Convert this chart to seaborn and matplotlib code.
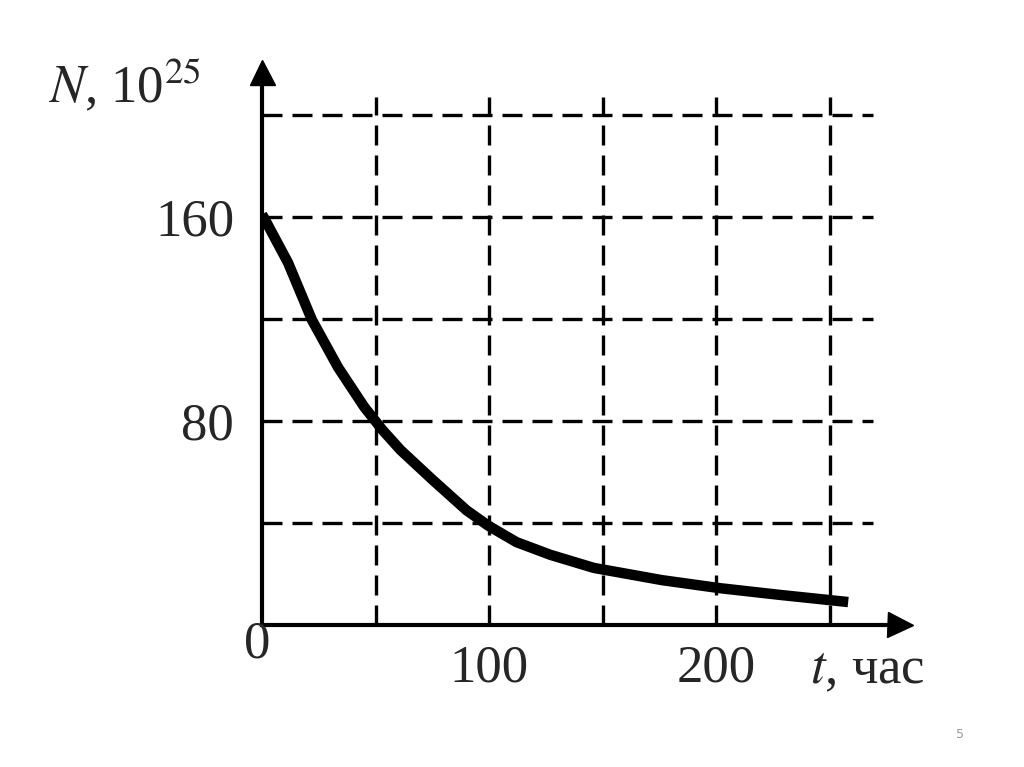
import matplotlib
matplotlib.use("Agg")
import matplotlib.pyplot as plt
import seaborn as sns
import pandas as pd

# Data
t_hours = [0, 1.3, 11.5, 22, 33.5, 45, 53, 61, 75, 90, 99.5, 112, 127, 146, 176, 201, 228, 258]
n_values = [161, 159, 142, 119.6, 101, 85.5, 76.5, 68.6, 57, 45, 39, 32.5, 27.5, 22.4, 17.6, 14.5, 11.8, 9]
x_grid = [50, 100, 150, 200, 250]
y_grid = [40, 80, 120, 160, 200]
x_ticks = [100, 200]
x_tick_labels = ["100", "200"]
y_ticks = [80, 160]
y_tick_labels = ["80", "160"]

sns.set_style("white")
plt.rcParams['font.family'] = ['Liberation Serif', 'DejaVu Serif']
plt.rcParams['mathtext.fontset'] = 'stix'

W, H = 1024, 767
px_x = 2.272
px_y = 2.55
right_px = 900
top_px = 72
fig = plt.figure(figsize=(W / 100, H / 100), dpi=100)
ax = fig.add_axes([262 / W, (H - 625) / H, (right_px - 262) / W, (625 - top_px) / H])
ax.set_xlim(0, (right_px - 262) / px_x)
ax.set_ylim(0, (625 - top_px) / px_y)

lw_grid = 2.4
dash = (0, (20 * 0.72 / lw_grid, 10 * 0.72 / lw_grid))
for xv in x_grid:
    ax.plot([xv, xv], [0, 207], color="black", lw=lw_grid, linestyle=dash, zorder=1)
for yv in y_grid:
    ax.plot([0, 269], [yv, yv], color="black", lw=lw_grid, linestyle=dash, zorder=1)

df = pd.DataFrame({"t": t_hours, "N": n_values})
sns.lineplot(data=df, x="t", y="N", ax=ax, color="black", linewidth=7.5,
             solid_capstyle="butt", solid_joinstyle="round", zorder=3)

for s in ["top", "right"]:
    ax.spines[s].set_visible(False)
for s in ["left", "bottom"]:
    ax.spines[s].set_linewidth(3)
    ax.spines[s].set_color("black")

# arrows
ax.plot(1, 0, ">", transform=ax.get_yaxis_transform(), color="black",
        markersize=18, clip_on=False, zorder=5)
ax.plot(0, 1, "^", transform=ax.get_xaxis_transform(), color="black",
        markersize=18, clip_on=False, zorder=5)

ax.set_xticks(x_ticks)
ax.set_xticklabels(x_tick_labels)
ax.set_yticks(y_ticks)
ax.set_yticklabels(y_tick_labels)
ax.tick_params(axis="both", length=0, labelsize=38)
ax.tick_params(axis="x", pad=14)
ax.tick_params(axis="y", pad=20)
ax.set_xlabel("")
ax.set_ylabel("")

fig.text(257 / W, 1 - 645 / H, "0", fontsize=38, ha="center", va="center")
fig.text(810 / W, 1 - 670 / H, r"$\it{t}$, час", fontsize=38, ha="left", va="center")
fig.text(48 / W, 1 - 85 / H, r"$\it{N}$, 10$^{25}$", fontsize=38, ha="left", va="center")
fig.text(960 / W, 1 - 735 / H, "5", fontsize=9, color="#999999", ha="center", va="center",
         family="DejaVu Sans")

fig.savefig("out.png", dpi=100)
